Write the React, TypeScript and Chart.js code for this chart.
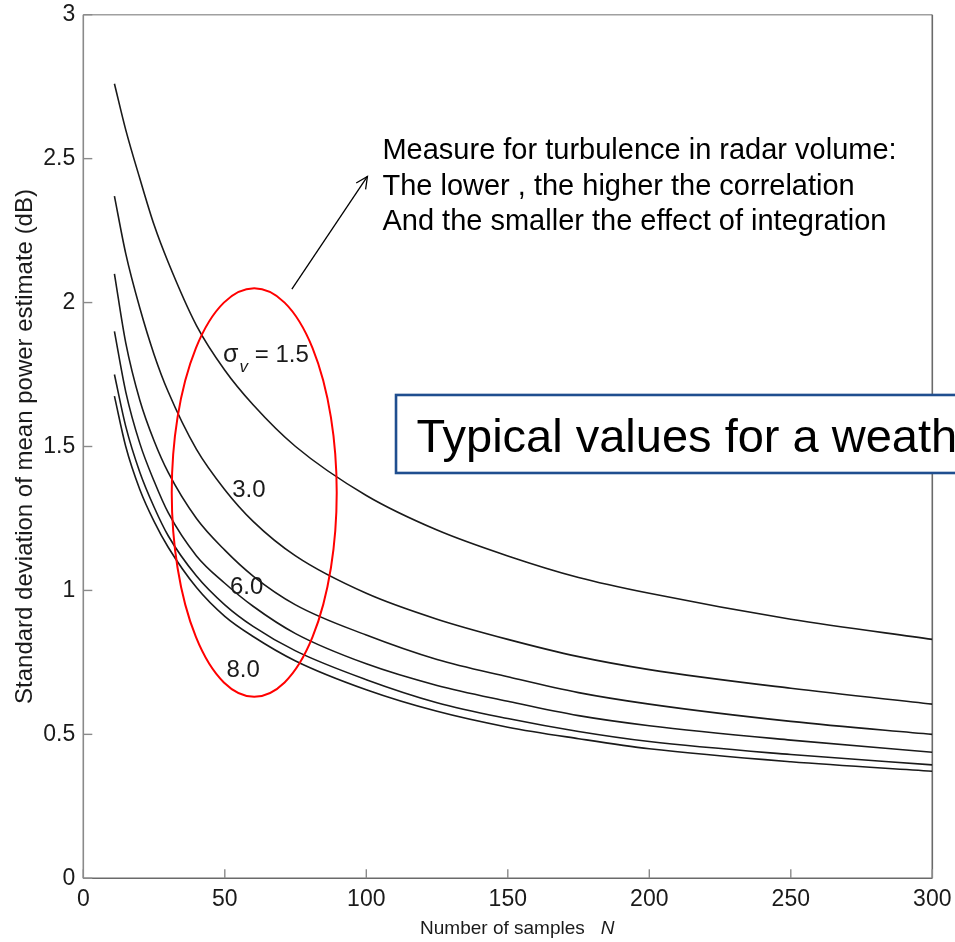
import React, { useEffect, useRef } from "react";
import { Chart, registerables } from "chart.js";

Chart.register(...registerables);

// ---- data ----
const sampleCounts = [11, 15, 20, 25, 30, 40, 50, 60, 75, 100, 125, 150, 175, 200, 250, 300];
const curveSigma15 = [2.76, 2.6, 2.43, 2.27, 2.14, 1.92, 1.765, 1.645, 1.5, 1.33, 1.21, 1.12, 1.045, 0.99, 0.9, 0.83];
const curveSigma30 = [2.37, 2.17, 1.98, 1.82, 1.69, 1.49, 1.35, 1.24, 1.12, 0.99, 0.9, 0.83, 0.77, 0.725, 0.66, 0.605];
const curveThird = [2.1, 1.86, 1.66, 1.52, 1.41, 1.25, 1.14, 1.05, 0.95, 0.845, 0.76, 0.7, 0.645, 0.605, 0.545, 0.5];
const curveFourth = [1.9, 1.69, 1.51, 1.38, 1.27, 1.12, 1.025, 0.945, 0.85, 0.745, 0.67, 0.615, 0.565, 0.53, 0.48, 0.438];
const curveFifth = [1.75, 1.57, 1.41, 1.29, 1.19, 1.05, 0.95, 0.875, 0.79, 0.69, 0.61, 0.555, 0.51, 0.475, 0.43, 0.394];
const curveSixth = [1.675, 1.5, 1.35, 1.24, 1.15, 1.01, 0.91, 0.84, 0.755, 0.655, 0.58, 0.525, 0.485, 0.45, 0.405, 0.372];

const seriesNames = ["σv = 1.5", "σv = 3.0", "curve 3", "σv = 6.0", "curve 5", "σv = 8.0"];
const seriesValues = [curveSigma15, curveSigma30, curveThird, curveFourth, curveFifth, curveSixth];

const xTickValues = [0, 50, 100, 150, 200, 250, 300];
const xTickLabels = ["0", "50", "100", "150", "200", "250", "300"];
const yTickValues = [0, 0.5, 1, 1.5, 2, 2.5, 3];
const yTickLabels = ["0", "0.5", "1", "1.5", "2", "2.5", "3"];

const xTitle = "Number of samples";
const xTitleSymbol = "N";
const yTitle = "Standard deviation of mean power estimate (dB)";

const curveLabelTexts = ["3.0", "6.0", "8.0"];
const noteLines = [
  "Measure for turbulence in radar volume:",
  "The lower , the higher the correlation",
  "And the smaller the effect of integration",
];
const boxText = "Typical values for a weather radar";

// ---- annotation anchors (data units: N, dB) ----
const curveLabelAnchors = [
  { n: 58.5, v: 1.349 },
  { n: 57.7, v: 1.009 },
  { n: 56.5, v: 0.724 },
];
const sigmaLabelAnchor = { n: 49.4, v: 1.794 };
const ellipseAnchor = { n: 60.4, v: 1.34, rn: 29.15, rv: 0.7095 };
const arrowTail = { n: 73.7, v: 2.047 };
const arrowHead = { n: 100.4, v: 2.438 };
const noteAnchor = { n: 105.7, v: [2.498, 2.375, 2.253] };
const boxAnchor = { n0: 110.5, n1: 400, vTop: 1.679, vBottom: 1.408, textN: 117.7, textV: 1.482 };
const xTitleAnchor = { n: 119, v: -0.193 };

const FONT = "'Liberation Sans', Arial, Helvetica, sans-serif";

const overlayPlugin = {
  id: "overlay",
  beforeDraw(chart: any) {
    const { ctx, width, height } = chart;
    ctx.save();
    ctx.fillStyle = "#ffffff";
    ctx.fillRect(0, 0, width, height);
    ctx.restore();
  },
  beforeDatasetsDraw(chart: any) {
    const { ctx, chartArea: a, scales } = chart;
    const x = scales.x;
    const y = scales.y;
    const seg = (x0: number, y0: number, x1: number, y1: number) => {
      ctx.beginPath();
      ctx.moveTo(x0, y0);
      ctx.lineTo(x1, y1);
      ctx.stroke();
    };
    ctx.save();
    ctx.lineWidth = 1.6;
    ctx.strokeStyle = "#a0a0a0";
    seg(a.left, a.top, a.right, a.top);
    ctx.strokeStyle = "#8a8a8a";
    seg(a.left, a.top, a.left, a.bottom);
    ctx.strokeStyle = "#6a6a6a";
    seg(a.left, a.bottom, a.right, a.bottom);
    seg(a.right, a.top, a.right, a.bottom);
    ctx.lineWidth = 1.4;
    ctx.strokeStyle = "#8a8a8a";
    xTickValues.forEach((v) => {
      const px = x.getPixelForValue(v);
      seg(px, a.bottom, px, a.bottom - 9);
    });
    yTickValues.forEach((v) => {
      const py = y.getPixelForValue(v);
      seg(a.left, py, a.left + 9, py);
    });
    ctx.restore();
  },
  afterDatasetsDraw(chart: any) {
    const { ctx, chartArea: a, scales } = chart;
    const x = scales.x;
    const y = scales.y;
    const px = (n: number) => x.getPixelForValue(n);
    const py = (v: number) => y.getPixelForValue(v);
    ctx.save();

    // curve labels
    ctx.font = `24px ${FONT}`;
    ctx.textBaseline = "middle";
    ctx.textAlign = "center";
    ctx.fillStyle = "#1a1a1a";
    curveLabelTexts.forEach((t, i) => {
      ctx.fillText(t, px(curveLabelAnchors[i].n), py(curveLabelAnchors[i].v));
    });

    // sigma label
    {
      const lx = px(sigmaLabelAnchor.n);
      const by = py(sigmaLabelAnchor.v);
      ctx.textAlign = "left";
      ctx.textBaseline = "alphabetic";
      ctx.fillStyle = "#1a1a1a";
      ctx.font = `25px ${FONT}`;
      const sw = ctx.measureText("σ").width;
      ctx.fillText("σ", lx, by);
      ctx.font = `italic 17px ${FONT}`;
      const vw = ctx.measureText("v").width;
      ctx.fillText("v", lx + sw + 1, by + 10);
      ctx.font = `24px ${FONT}`;
      ctx.fillText(" = 1.5", lx + sw + vw + 1, by);
    }

    // red ellipse
    ctx.beginPath();
    const ecx = px(ellipseAnchor.n);
    const ecy = py(ellipseAnchor.v);
    const erx = Math.abs(px(ellipseAnchor.n + ellipseAnchor.rn) - ecx);
    const ery = Math.abs(py(ellipseAnchor.v + ellipseAnchor.rv) - ecy);
    ctx.ellipse(ecx, ecy, erx, ery, 0, 0, Math.PI * 2);
    ctx.strokeStyle = "#ff0000";
    ctx.lineWidth = 2;
    ctx.stroke();

    // arrow
    {
      const x0 = px(arrowTail.n), y0 = py(arrowTail.v);
      const x1 = px(arrowHead.n), y1 = py(arrowHead.v);
      ctx.strokeStyle = "#000000";
      ctx.lineWidth = 1.3;
      ctx.beginPath();
      ctx.moveTo(x0, y0);
      ctx.lineTo(x1, y1);
      ctx.stroke();
      const ang = Math.atan2(y1 - y0, x1 - x0);
      const L = 13;
      ctx.beginPath();
      ctx.moveTo(x1 - L * Math.cos(ang - 0.45), y1 - L * Math.sin(ang - 0.45));
      ctx.lineTo(x1, y1);
      ctx.lineTo(x1 - L * Math.cos(ang + 0.45), y1 - L * Math.sin(ang + 0.45));
      ctx.stroke();
    }

    // note text
    ctx.font = `29px ${FONT}`;
    ctx.fillStyle = "#000000";
    ctx.textAlign = "left";
    ctx.textBaseline = "alphabetic";
    noteLines.forEach((t, i) => {
      ctx.fillText(t, px(noteAnchor.n), py(noteAnchor.v[i]));
    });

    // blue box
    {
      const bx0 = px(boxAnchor.n0);
      const bx1 = px(boxAnchor.n1);
      const by0 = py(boxAnchor.vTop);
      const by1 = py(boxAnchor.vBottom);
      ctx.fillStyle = "#ffffff";
      ctx.fillRect(bx0, by0, bx1 - bx0, by1 - by0);
      ctx.strokeStyle = "#1f4e8f";
      ctx.lineWidth = 2.6;
      ctx.strokeRect(bx0, by0, bx1 - bx0, by1 - by0);
      ctx.fillStyle = "#000000";
      ctx.font = `47px ${FONT}`;
      ctx.fillText(boxText, px(boxAnchor.textN), py(boxAnchor.textV));
    }

    // x title
    {
      ctx.fillStyle = "#1a1a1a";
      ctx.font = `19px ${FONT}`;
      const tx = px(xTitleAnchor.n);
      const ty = py(xTitleAnchor.v);
      ctx.fillText(xTitle, tx, ty);
      const w = ctx.measureText(xTitle + "   ").width;
      ctx.font = `italic 19px ${FONT}`;
      ctx.fillText(xTitleSymbol, tx + w, ty);
    }

    // y title
    {
      ctx.translate(25, (a.top + a.bottom) / 2);
      ctx.rotate(-Math.PI / 2);
      ctx.font = `24px ${FONT}`;
      ctx.textAlign = "center";
      ctx.textBaseline = "middle";
      ctx.fillStyle = "#1a1a1a";
      ctx.fillText(yTitle, 0, 0);
    }
    ctx.restore();
  },
};

export default function App() {
  const ref = useRef<HTMLCanvasElement>(null);
  useEffect(() => {
    const datasets = seriesValues.map((vals, i) => ({
      label: seriesNames[i],
      data: sampleCounts.map((n, j) => ({ x: n, y: vals[j] })),
      borderColor: "#1a1a1a",
      borderWidth: 1.6,
      pointRadius: 0,
      fill: false,
      cubicInterpolationMode: "monotone" as const,
    }));
    const chart = new Chart(ref.current!, {
      type: "line",
      data: { datasets },
      plugins: [overlayPlugin],
      options: {
        responsive: false,
        animation: false,
        devicePixelRatio: 1,
        layout: { padding: { top: 14.7, right: 22.7, left: 0, bottom: 0 } },
        plugins: { legend: { display: false }, tooltip: { enabled: false } },
        scales: {
          x: {
            type: "linear",
            min: 0,
            max: 300,
            afterFit: (s: any) => {
              s.height = 63.7;
              s.paddingLeft = 0;
              s.paddingRight = 0;
              s.paddingTop = 0;
              s.paddingBottom = 0;
            },
            afterBuildTicks: (s: any) => {
              s.ticks = xTickValues.map((v) => ({ value: v }));
            },
            grid: { display: false, drawTicks: false },
            border: { display: false },
            ticks: {
              padding: 8,
              maxRotation: 0,
              autoSkip: false,
              color: "#1a1a1a",
              font: { family: FONT, size: 23 },
              callback: (v: any) => {
                const k = xTickValues.indexOf(Number(v));
                return k >= 0 ? xTickLabels[k] : "";
              },
            },
          },
          y: {
            type: "linear",
            min: 0,
            max: 3,
            afterFit: (s: any) => {
              s.width = 83.3;
              s.paddingLeft = 0;
              s.paddingRight = 0;
              s.paddingTop = 0;
              s.paddingBottom = 0;
            },
            afterBuildTicks: (s: any) => {
              s.ticks = yTickValues.map((v) => ({ value: v }));
            },
            grid: { display: false, drawTicks: false },
            border: { display: false },
            ticks: {
              padding: 8,
              autoSkip: false,
              color: "#1a1a1a",
              font: { family: FONT, size: 23 },
              callback: (v: any) => {
                const k = yTickValues.indexOf(Number(v));
                return k >= 0 ? yTickLabels[k] : "";
              },
            },
          },
        },
      },
    } as any);
    return () => chart.destroy();
  }, []);
  return (
    <div style={{ position: "absolute", left: 0, top: 0, width: 955, height: 942, background: "#fff", overflow: "hidden" }}>
      <canvas ref={ref} width={955} height={942} style={{ display: "block", width: 955, height: 942 }} />
    </div>
  );
}
